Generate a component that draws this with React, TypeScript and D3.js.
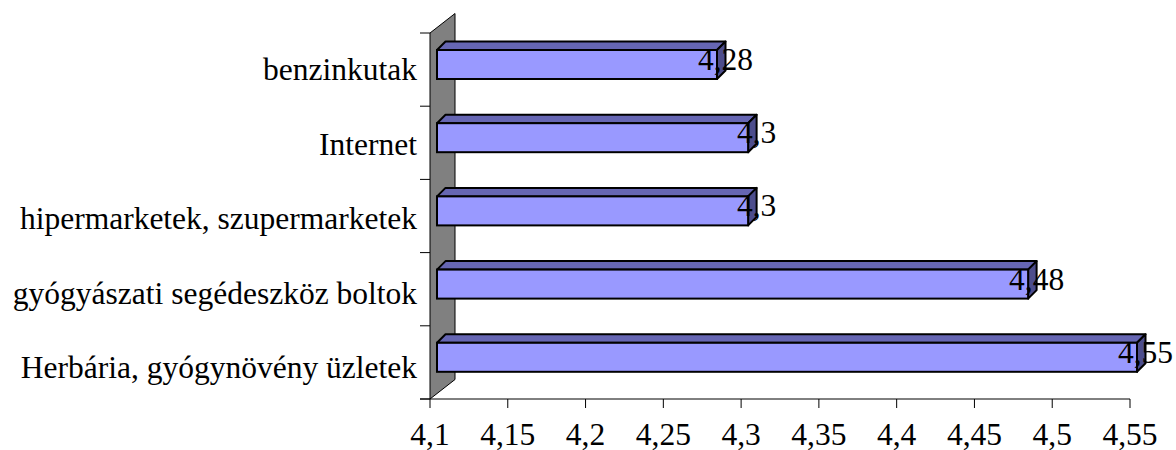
import React from "react";
import * as d3 from "d3";

const categories = [
  "benzinkutak",
  "Internet",
  "hipermarketek, szupermarketek",
  "gyógyászati segédeszköz boltok",
  "Herbária, gyógynövény üzletek",
];
const values = [4.28, 4.3, 4.3, 4.48, 4.55];
const valueLabels = ["4,28", "4,3", "4,3", "4,48", "4,55"];
const ticks = [4.1, 4.15, 4.2, 4.25, 4.3, 4.35, 4.4, 4.45, 4.5, 4.55];
const tickLabels = ["4,1", "4,15", "4,2", "4,25", "4,3", "4,35", "4,4", "4,45", "4,5", "4,55"];

export default function App() {
  const W = 1176, H = 450;
  const x = d3.scaleLinear().domain([4.1, 4.55]).range([430, 1130]);
  const y = d3.scaleBand().domain(categories).range([33, 399]);
  const yLabel = d3.scalePoint().domain(categories).range([80, 378]);
  const wallDx = 25, wallDy = -19.5;
  const barDx = 7; // front face offset
  const bd = 8.5; // bar depth
  const font = "'Liberation Serif', 'Times New Roman', serif";
  const fs = 31.5;
  const x0 = x(4.1);
  const yTop = y.range()[0], yBot = y.range()[1];
  const bandTicks = categories.map((c) => y(c)!).concat([yBot]);

  return (
    <svg width={W} height={H} style={{ position: "absolute", left: 0, top: 0, background: "#fff" }}>
      {/* wall */}
      <polygon
        points={`${x0},${yTop} ${x0 + wallDx},${yTop + wallDy} ${x0 + wallDx},${yBot + wallDy} ${x0},${yBot}`}
        fill="#808080"
        stroke="#000"
        strokeWidth={1}
      />
      {/* y axis ticks */}
      {bandTicks.map((t, i) => (
        <line key={i} x1={x0 - 10} x2={x0} y1={t} y2={t} stroke="#000" strokeWidth={1} />
      ))}
      {/* x axis */}
      <line x1={x0 - 10} x2={x(4.55)} y1={yBot} y2={yBot} stroke="#000" strokeWidth={1} />
      {ticks.map((t, i) => (
        <g key={i}>
          <line x1={x(t)} x2={x(t)} y1={yBot} y2={yBot + 9} stroke="#000" strokeWidth={1} />
          <text x={x(t)} y={yBot + 46} textAnchor="middle" fontFamily={font} fontSize={fs} fill="#000">
            {tickLabels[i]}
          </text>
        </g>
      ))}
      {/* bars */}
      {categories.map((c, i) => {
        const top = y(c)! + 17;
        const bot = y(c)! + 46;
        const l = x0 + barDx;
        const r = x(values[i]) + barDx;
        return (
          <g key={c}>
            <polygon
              points={`${l},${top} ${l + bd},${top - bd} ${r + bd},${top - bd} ${r},${top}`}
              fill="#6666B3"
              stroke="#000"
              strokeWidth={2}
              strokeLinejoin="round"
            />
            <polygon
              points={`${r},${top} ${r + bd},${top - bd} ${r + bd},${bot - bd} ${r},${bot}`}
              fill="#4D4D8C"
              stroke="#000"
              strokeWidth={2}
              strokeLinejoin="round"
            />
            <rect x={l} y={top} width={r - l} height={bot - top} fill="#9999FF" stroke="#000" strokeWidth={2} />
            <text x={r + bd} y={top + 20} textAnchor="middle" fontFamily={font} fontSize={fs} fill="#000">
              {valueLabels[i]}
            </text>
            <text x={417} y={yLabel(c)} textAnchor="end" fontFamily={font} fontSize={fs} fill="#000">
              {c}
            </text>
          </g>
        );
      })}
    </svg>
  );
}
